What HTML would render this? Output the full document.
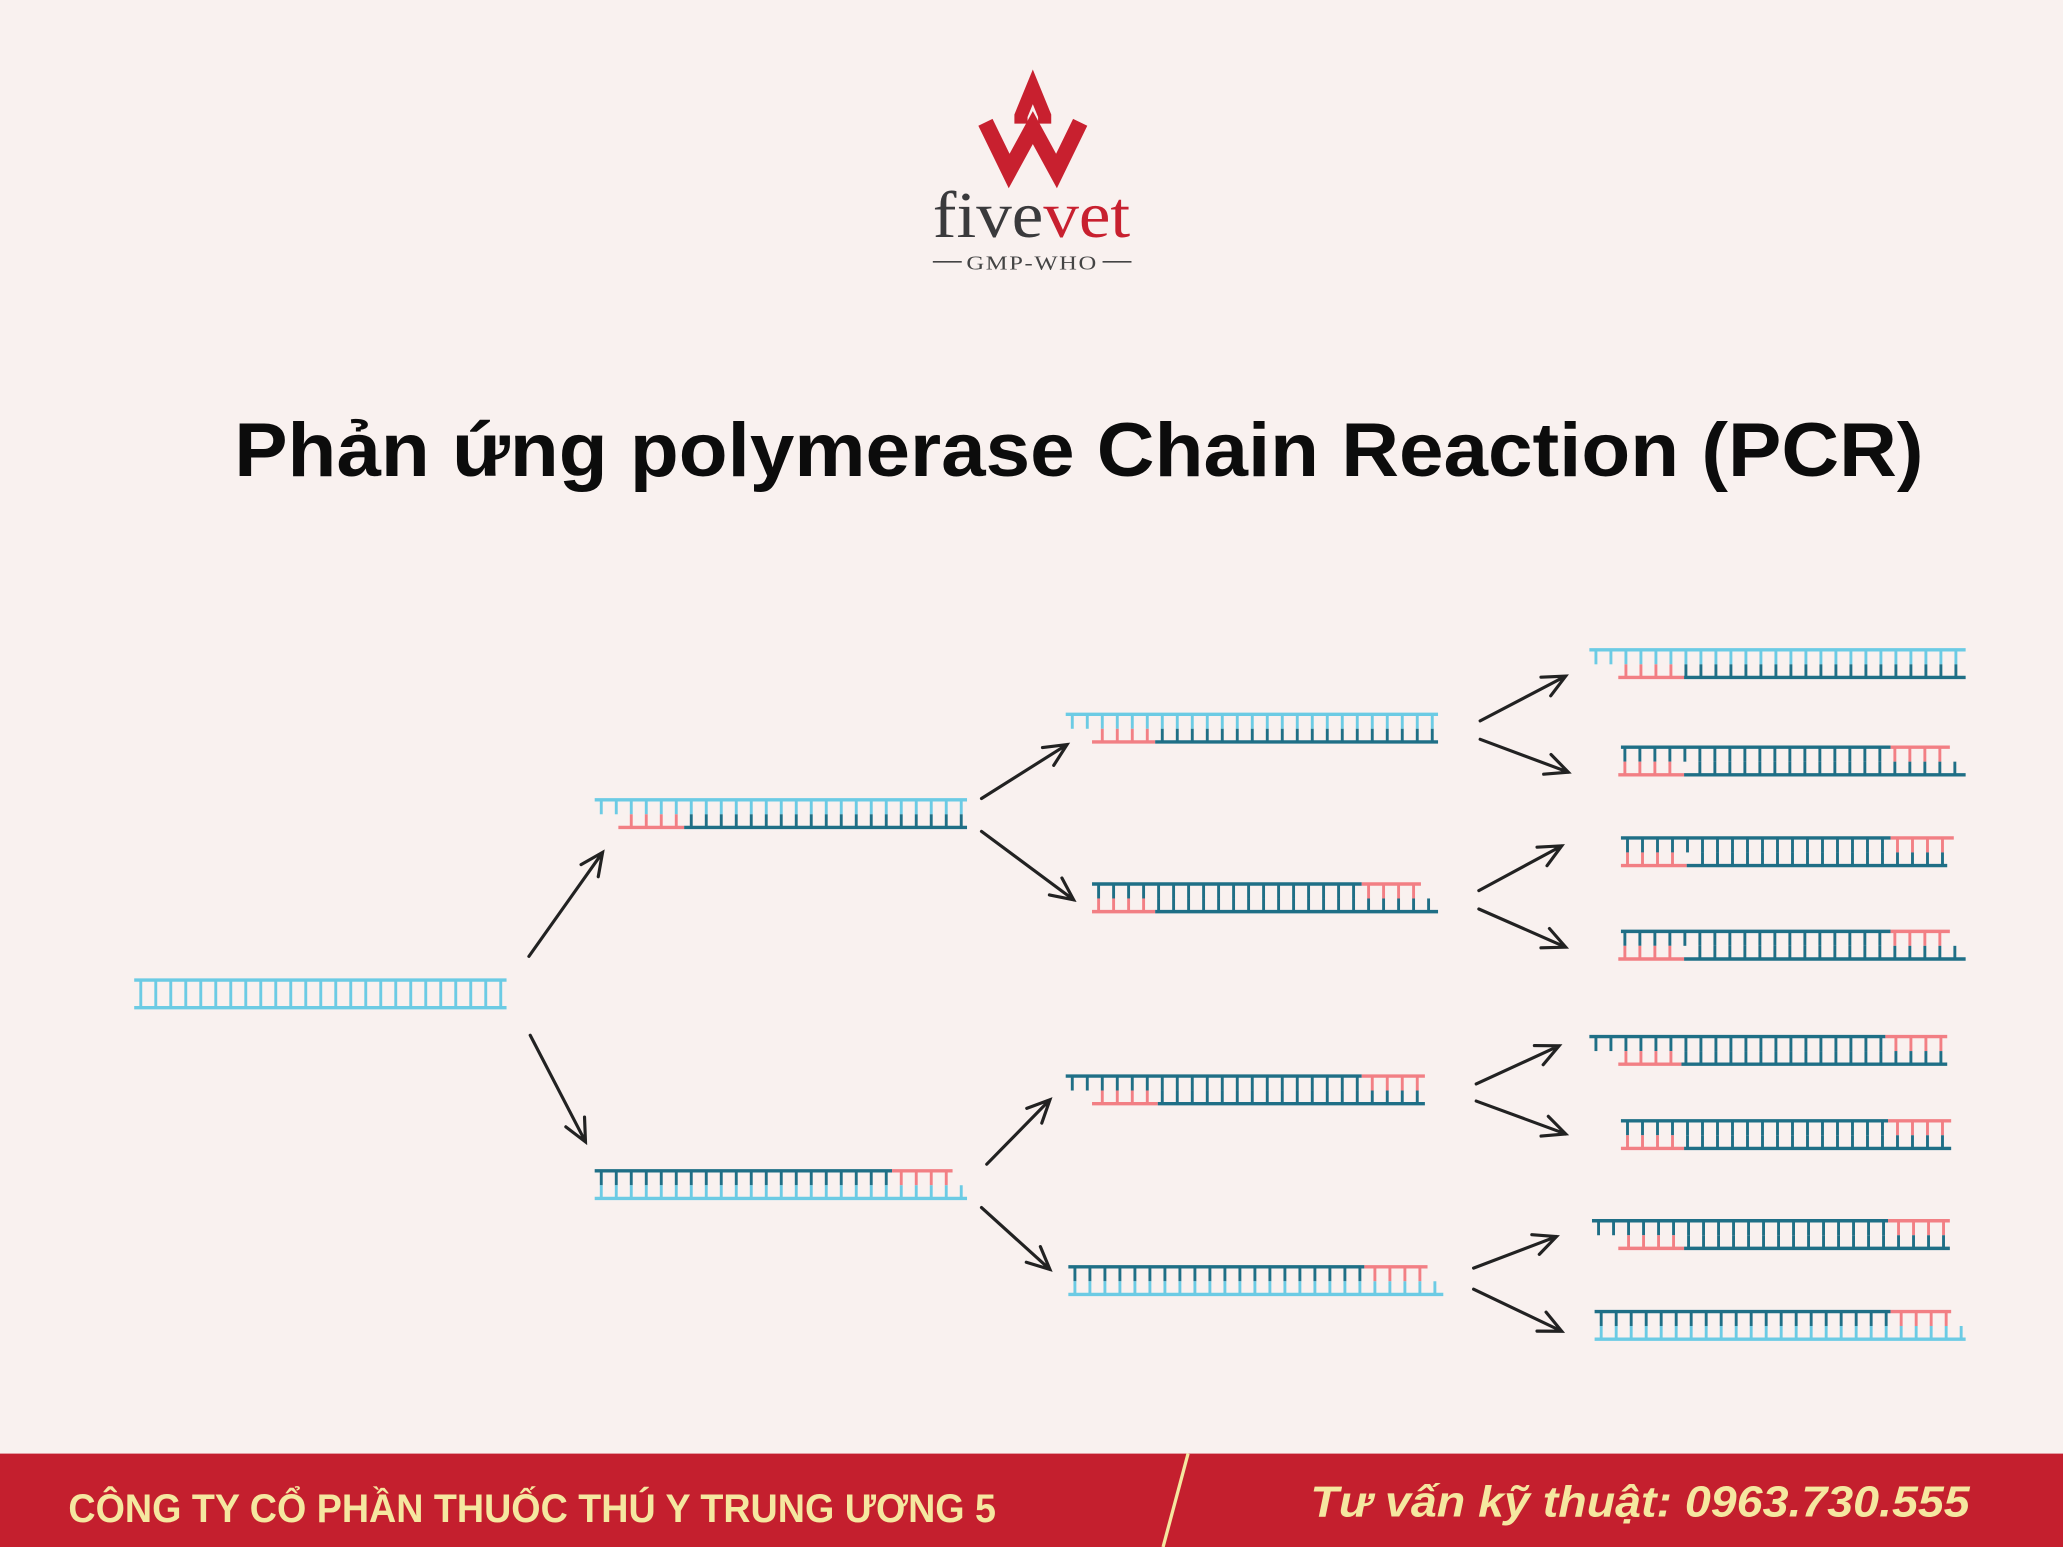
<!DOCTYPE html>
<html><head><meta charset="utf-8"><style>
html,body{margin:0;padding:0;background:#f9f1ef;}
svg{display:block}
</style></head><body>
<svg id="s" width="2063" height="1547" viewBox="0 0 1568 1176" preserveAspectRatio="none" xmlns="http://www.w3.org/2000/svg">
<rect width="1568" height="1176" fill="#f9f1ef"/>
<g fill="none" stroke="#c8202f" stroke-width="12" stroke-linejoin="miter">
<path d="M749,93 L767,130 L785,97 L803,130 L821,93"/>
<path d="M776,94 L776,88 L785,66 L794,88 L794,94" stroke-width="10"/>
</g>
<text x="784" y="180" text-anchor="middle" font-family="Liberation Serif, serif" font-size="50" fill="#3a3a3c" textLength="150" lengthAdjust="spacingAndGlyphs">five<tspan fill="#c8202f">vet</tspan></text>
<line x1="709" y1="199" x2="731" y2="199" stroke="#444" stroke-width="1.2"/>
<line x1="838" y1="199" x2="860" y2="199" stroke="#444" stroke-width="1.2"/>
<text x="784.5" y="205" text-anchor="middle" font-family="Liberation Serif, serif" font-size="15" fill="#444" letter-spacing="1" textLength="100" lengthAdjust="spacingAndGlyphs">GMP-WHO</text>
<text x="178" y="362" font-family="Liberation Sans, DejaVu Sans, sans-serif" font-weight="bold" font-size="58" fill="#0c0c0c" textLength="1284" lengthAdjust="spacingAndGlyphs">Phản ứng polymerase Chain Reaction (PCR)</text>
<g id="dna"></g>
<g id="arr" stroke="#222" stroke-width="2.4" fill="none" stroke-linecap="round"></g>
<rect x="0" y="1105" width="1568" height="71" fill="#c41f2e"/>
<line x1="903" y1="1105" x2="884" y2="1176" stroke="#f5e7a0" stroke-width="2.5"/>
<text x="52" y="1157" font-family="Liberation Sans, sans-serif" font-weight="bold" font-size="30" fill="#f5e7a0" textLength="705" lengthAdjust="spacingAndGlyphs">CÔNG TY CỔ PHẦN THUỐC THÚ Y TRUNG ƯƠNG 5</text>
<text x="996" y="1153" font-family="Liberation Sans, sans-serif" font-weight="bold" font-style="italic" font-size="33" fill="#f5e7a0" textLength="501" lengthAdjust="spacingAndGlyphs">Tư vấn kỹ thuật: 0963.730.555</text>
</svg>
<script>
var LB="#6ccbe4",DK="#1f6f86",RD="#f27f84";
var NS="http://www.w3.org/2000/svg";
var g=document.getElementById("dna");
function ln(x1,y1,x2,y2,c,w){var l=document.createElementNS(NS,"line");l.setAttribute("x1",x1);l.setAttribute("y1",y1);l.setAttribute("x2",x2);l.setAttribute("y2",y2);l.setAttribute("stroke",c);l.setAttribute("stroke-width",w);g.appendChild(l);}
function strand(y,top,bot){
 var x0=Math.min(top[0][0],bot[0][0])+5;
 var yb=y+21;
 top.forEach(function(s){ln(s[0],y,s[1],y,s[2],2.6);});
 bot.forEach(function(s){ln(s[0],yb,s[1],yb,s[2],2.6);});
 top.forEach(function(s){for(var x=x0;x<s[1]-2;x+=11.4){if(x>s[0]+1)ln(x,y,x,y+11,s[2],2.2);}});
 bot.forEach(function(s){for(var x=x0;x<s[1]-2;x+=11.4){if(x>s[0]+1)ln(x,yb,x,yb-10,s[2],2.2);}});
}
strand(745,[[102,385,LB]],[[102,385,LB]]);
strand(608,[[452,735,LB]],[[470,520,RD],[520,735,DK]]);
strand(890,[[452,678,DK],[678,724,RD]],[[452,735,LB]]);
strand(543,[[810,1093,LB]],[[830,878,RD],[878,1093,DK]]);
strand(672,[[830,1035,DK],[1035,1080,RD]],[[830,878,RD],[878,1093,DK]]);
strand(818,[[810,1035,DK],[1035,1083,RD]],[[830,880,RD],[880,1083,DK]]);
strand(963,[[812,1037,DK],[1037,1085,RD]],[[812,1097,LB]]);
strand(494,[[1208,1494,LB]],[[1230,1280,RD],[1280,1494,DK]]);
strand(568,[[1232,1437,DK],[1437,1482,RD]],[[1230,1280,RD],[1280,1494,DK]]);
strand(637,[[1232,1437,DK],[1437,1485,RD]],[[1232,1282,RD],[1282,1480,DK]]);
strand(708,[[1232,1437,DK],[1437,1482,RD]],[[1230,1280,RD],[1280,1494,DK]]);
strand(788,[[1208,1433,DK],[1433,1480,RD]],[[1230,1278,RD],[1278,1480,DK]]);
strand(852,[[1232,1435,DK],[1435,1483,RD]],[[1232,1280,RD],[1280,1483,DK]]);
strand(928,[[1210,1435,DK],[1435,1482,RD]],[[1230,1280,RD],[1280,1482,DK]]);
strand(997,[[1212,1437,DK],[1437,1483,RD]],[[1212,1494,LB]]);
var a=document.getElementById("arr");
function arrow(x1,y1,x2,y2){var dx=x2-x1,dy=y2-y1,L=Math.sqrt(dx*dx+dy*dy),ux=dx/L,uy=dy/L,h=17,w=8;
 var p=document.createElementNS(NS,"path");
 var bx=x2-ux*h,by=y2-uy*h;
 p.setAttribute("d","M"+x1+","+y1+" L"+x2+","+y2+" M"+(bx-uy*w)+","+(by+ux*w)+" L"+x2+","+y2+" L"+(bx+uy*w)+","+(by-ux*w));
 a.appendChild(p);}
[[402,727,458,648],[403,787,445,868],[746,607,811,566],[746,632,816,684],[750,885,798,836],[746,918,798,965],
[1125,548,1190,514],[1125,562,1192,587],[1124,677,1187,643],[1124,691,1190,720],[1122,824,1185,795],[1122,837,1190,862],[1120,964,1183,940],[1120,980,1187,1012]].forEach(function(v){arrow(v[0],v[1],v[2],v[3]);});
</script>
</body></html>
